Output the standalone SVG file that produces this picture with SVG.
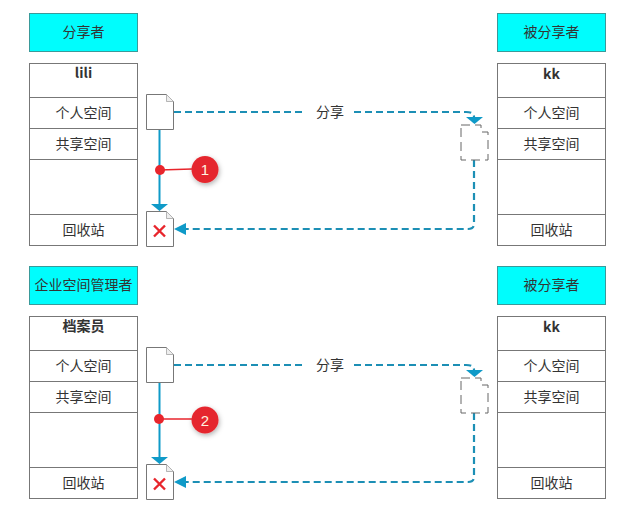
<svg xmlns="http://www.w3.org/2000/svg" width="625" height="512" viewBox="0 0 625 512">
<defs>
<filter id="sh" x="-40%" y="-40%" width="180%" height="180%"><feDropShadow dx="1" dy="2" stdDeviation="2.500" flood-color="#000" flood-opacity="0.3"/></filter>
<g id="doc"><path d="M0 0H20L27 7V35H0Z" fill="#fff" stroke="#777"/><path d="M20 0V7H27" fill="#eee" stroke="#999" stroke-width="0.7"/></g>
<g id="ghost"><path d="M0 0H20V7H27V35H0Z" fill="#fff" stroke="#666" stroke-width="1" stroke-dasharray="9 5"/></g>
<g id="x"><path d="M-5.500 -5.500L5.500 5.500M5.500 -5.500L-5.500 5.500" stroke="#e8252c" stroke-width="2.400" fill="none"/></g>
</defs>
<style>
text{font-family:"Noto Sans CJK SC","Liberation Sans",sans-serif;font-size:14px;fill:#333;text-anchor:middle}
.b{font-weight:700}
.head{fill:#00fdfd;stroke:#3a9a9a}
.cell{fill:#fff;stroke:#777}
.solid{stroke:#0f9ac8;stroke-width:2;fill:none}
.dash{stroke:#1c8fb5;stroke-width:2.200;fill:none;stroke-dasharray:7 4}
.num{fill:#fff3e0;font-size:15px;font-family:"Liberation Sans",sans-serif}
</style>
<g id="connectors">
<path class="dash" d="M174 112H305M354 112H466Q474 112 474 117V124"/>
<path d="M466 117H483L474.500 124Z" fill="#0f9ac8"/>
<path class="dash" d="M474 160V224Q474 229 468 229H186"/>
<path d="M174 229L186 223L186 235Z" fill="#0f9ac8"/>
<path class="solid" d="M159.500 129V206"/>
<path d="M151 204H168L159.500 211Z" fill="#0f9ac8"/>
<path d="M159.500 170L192 169" stroke="#e8252c" stroke-width="1.500" fill="none"/>
<path class="dash" d="M174 365H305M354 365H466Q474 365 474 370V377"/>
<path d="M466 370H483L474.500 377Z" fill="#0f9ac8"/>
<path class="dash" d="M474 413V477Q474 482 468 482H186"/>
<path d="M174 482L186 476L186 488Z" fill="#0f9ac8"/>
<path class="solid" d="M159.500 382V459"/>
<path d="M151 457H168L159.500 464Z" fill="#0f9ac8"/>
<path d="M159.500 419L192 419" stroke="#e8252c" stroke-width="1.500" fill="none"/>
</g>
<g id="share-label-1"><text x="330" y="117">分享</text></g>
<g id="share-label-2"><text x="330" y="370">分享</text></g>
<g id="head-1"><rect class="head" x="29.500" y="13.500" width="108" height="38"/><text x="83.500" y="37">分享者</text></g>
<g id="head-2"><rect class="head" x="497.500" y="13.500" width="108" height="38"/><text x="551.500" y="37">被分享者</text></g>
<g id="head-3"><rect class="head" x="29.500" y="266.500" width="108" height="38"/><text x="83.500" y="290">企业空间管理者</text></g>
<g id="head-4"><rect class="head" x="497.500" y="266.500" width="108" height="38"/><text x="551.500" y="290">被分享者</text></g>
<g id="table-1">
<rect class="cell" x="29.500" y="63.500" width="108" height="182"/>
<path class="cell" d="M29.500 97.500H137.500M29.500 128.500H137.500M29.500 159.500H137.500M29.500 214.500H137.500"/>
<text class="b" x="83.500" y="78">lili</text><text x="83.500" y="118">个人空间</text><text x="83.500" y="149">共享空间</text><text x="83.500" y="235">回收站</text>
</g>
<g id="table-2">
<rect class="cell" x="497.500" y="63.500" width="108" height="182"/>
<path class="cell" d="M497.500 97.500H605.500M497.500 128.500H605.500M497.500 159.500H605.500M497.500 214.500H605.500"/>
<text class="b" x="551.500" y="79">kk</text><text x="551.500" y="118">个人空间</text><text x="551.500" y="149">共享空间</text><text x="551.500" y="235">回收站</text>
</g>
<g id="table-3">
<rect class="cell" x="29.500" y="316.500" width="108" height="182"/>
<path class="cell" d="M29.500 350.500H137.500M29.500 381.500H137.500M29.500 412.500H137.500M29.500 467.500H137.500"/>
<text class="b" x="83.500" y="331">档案员</text><text x="83.500" y="371">个人空间</text><text x="83.500" y="402">共享空间</text><text x="83.500" y="488">回收站</text>
</g>
<g id="table-4">
<rect class="cell" x="497.500" y="316.500" width="108" height="182"/>
<path class="cell" d="M497.500 350.500H605.500M497.500 381.500H605.500M497.500 412.500H605.500M497.500 467.500H605.500"/>
<text class="b" x="551.500" y="332">kk</text><text x="551.500" y="371">个人空间</text><text x="551.500" y="402">共享空间</text><text x="551.500" y="488">回收站</text>
</g>
<g id="file-1"><use href="#doc" x="146.500" y="94.500"/></g>
<g id="file-2"><use href="#doc" x="146.500" y="211.500"/><use href="#x" x="159.500" y="231"/></g>
<g id="file-3"><use href="#ghost" x="461" y="125"/></g>
<g id="file-4"><use href="#doc" x="146.500" y="347.500"/></g>
<g id="file-5"><use href="#doc" x="146.500" y="464.500"/><use href="#x" x="159.500" y="484"/></g>
<g id="file-6"><use href="#ghost" x="461" y="378"/></g>
<g id="badge-1"><circle cx="160" cy="170" r="5" fill="#e8252c"/><circle cx="205" cy="169.500" r="13.500" fill="#e5282f" filter="url(#sh)"/><text class="num" x="205" y="175">1</text></g>
<g id="badge-2"><circle cx="159" cy="419" r="5" fill="#e8252c"/><circle cx="205" cy="420" r="13.500" fill="#e5282f" filter="url(#sh)"/><text class="num" x="205" y="425.500">2</text></g>
</svg>
